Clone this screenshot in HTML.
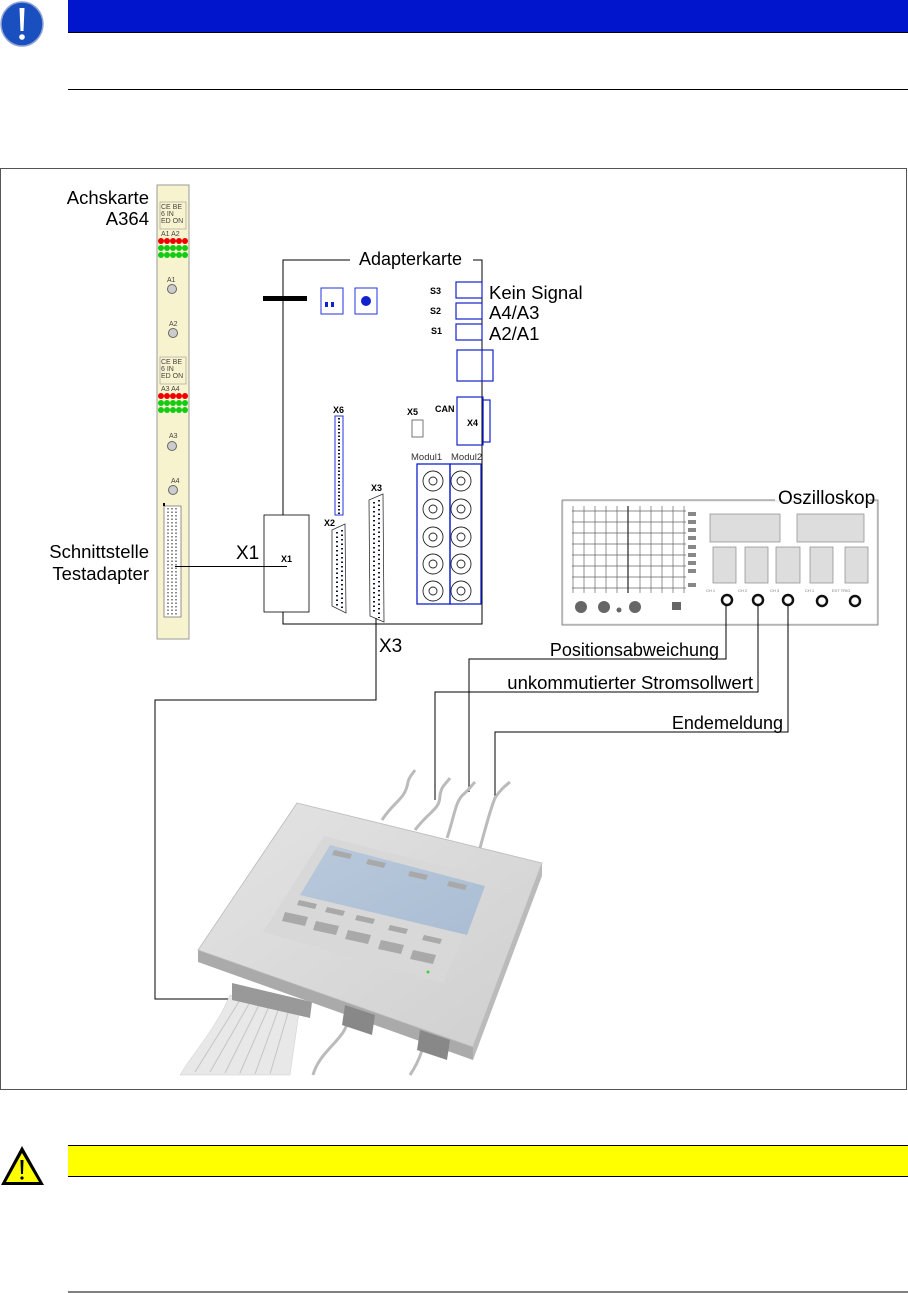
<!DOCTYPE html>
<html><head><meta charset="utf-8"><style>
html,body{margin:0;padding:0;background:#fff;}
svg{display:block;}
text{font-family:"Liberation Sans",Arial,sans-serif;}
</style></head><body>
<svg width="908" height="1293" viewBox="0 0 908 1293" xmlns="http://www.w3.org/2000/svg">
<defs>
<linearGradient id="top" x1="0" y1="0" x2="1" y2="1"><stop offset="0" stop-color="#e4e4e4"/><stop offset="1" stop-color="#cfcfcf"/></linearGradient>
<linearGradient id="scr" x1="0" y1="0" x2="1" y2="1"><stop offset="0" stop-color="#b9c9dc"/><stop offset="1" stop-color="#aabdd3"/></linearGradient>
</defs>
<rect x="68" y="0" width="840" height="32" fill="#0015cc"/>
<line x1="68" y1="32.5" x2="908" y2="32.5" stroke="#000" stroke-width="1"/>
<line x1="68" y1="89.5" x2="908" y2="89.5" stroke="#000" stroke-width="1"/>
<ellipse cx="22" cy="24" rx="21" ry="22" fill="#1a4fbf" stroke="#8fa4d4" stroke-width="1.5"/>
<path d="M19.5 8 L24.5 8 L23.5 31 L20.5 31 Z" fill="#fff"/>
<circle cx="22" cy="37" r="2.8" fill="#fff"/>

<rect x="0.5" y="168.5" width="906" height="921" fill="none" stroke="#555" stroke-width="1"/>

<text x="149" y="204" font-size="18.5" text-anchor="end">Achskarte</text>
<text x="149" y="225" font-size="18.5" text-anchor="end">A364</text>
<text x="149" y="558" font-size="18.5" text-anchor="end">Schnittstelle</text>
<text x="149" y="580" font-size="18.5" text-anchor="end">Testadapter</text>

<rect x="157" y="185" width="32" height="454" fill="#f7f3cf" stroke="#999" stroke-width="1"/>
<g font-size="7" fill="#444">
<rect x="160" y="202" width="26" height="27" fill="none" stroke="#999" stroke-width="0.6"/>
<text x="161" y="209">CE BE</text><text x="161" y="216">6  IN</text><text x="161" y="223">ED ON</text>
<text x="161" y="236">A1 A2</text>
<rect x="160" y="357" width="26" height="27" fill="none" stroke="#999" stroke-width="0.6"/>
<text x="161" y="364">CE BE</text><text x="161" y="371">6  IN</text><text x="161" y="378">ED ON</text>
<text x="161" y="391">A3 A4</text>
<text x="167" y="282">A1</text><text x="169" y="326">A2</text><text x="169" y="438">A3</text><text x="171" y="483">A4</text>
</g>
<g>
<circle cx="161" cy="241" r="3" fill="#e00"/><circle cx="167" cy="241" r="3" fill="#e00"/><circle cx="173" cy="241" r="3" fill="#e00"/><circle cx="179" cy="241" r="3" fill="#e00"/><circle cx="185" cy="241" r="3" fill="#e00"/>
<circle cx="161" cy="248" r="3" fill="#1c1"/><circle cx="167" cy="248" r="3" fill="#1c1"/><circle cx="173" cy="248" r="3" fill="#1c1"/><circle cx="179" cy="248" r="3" fill="#1c1"/><circle cx="185" cy="248" r="3" fill="#1c1"/>
<circle cx="161" cy="255" r="3" fill="#1c1"/><circle cx="167" cy="255" r="3" fill="#1c1"/><circle cx="173" cy="255" r="3" fill="#1c1"/><circle cx="179" cy="255" r="3" fill="#1c1"/><circle cx="185" cy="255" r="3" fill="#1c1"/>
<circle cx="161" cy="396" r="3" fill="#e00"/><circle cx="167" cy="396" r="3" fill="#e00"/><circle cx="173" cy="396" r="3" fill="#e00"/><circle cx="179" cy="396" r="3" fill="#e00"/><circle cx="185" cy="396" r="3" fill="#e00"/>
<circle cx="161" cy="403" r="3" fill="#1c1"/><circle cx="167" cy="403" r="3" fill="#1c1"/><circle cx="173" cy="403" r="3" fill="#1c1"/><circle cx="179" cy="403" r="3" fill="#1c1"/><circle cx="185" cy="403" r="3" fill="#1c1"/>
<circle cx="161" cy="410" r="3" fill="#1c1"/><circle cx="167" cy="410" r="3" fill="#1c1"/><circle cx="173" cy="410" r="3" fill="#1c1"/><circle cx="179" cy="410" r="3" fill="#1c1"/><circle cx="185" cy="410" r="3" fill="#1c1"/>
</g>
<g fill="#ccc" stroke="#666" stroke-width="1">
<circle cx="172" cy="289" r="4.5"/><circle cx="173" cy="333" r="4.5"/><circle cx="172" cy="446" r="4.5"/><circle cx="173" cy="490" r="4.5"/>
</g>
<rect x="164" y="506" width="17" height="111" fill="#fff" stroke="#777" stroke-width="0.8"/>
<path d="M168 508 V615 M172 508 V615 M176 508 V615" stroke="#666" stroke-width="1.5" stroke-dasharray="1.5 2"/>
<rect x="163" y="503" width="2" height="3" fill="#000"/>

<path d="M350 260 H283 V515 M283 612 V624 H482 V260 H473" fill="none" stroke="#000" stroke-width="1"/>
<text x="359" y="265" font-size="18">Adapterkarte</text>
<rect x="263" y="296" width="44" height="5" fill="#000"/>
<rect x="321" y="288" width="22" height="26" fill="none" stroke="#2233dd" stroke-width="1"/>
<rect x="325" y="302" width="3" height="5" fill="#1122cc"/><rect x="331" y="302" width="3" height="5" fill="#1122cc"/>
<rect x="355" y="288" width="22" height="26" fill="none" stroke="#2233dd" stroke-width="1"/>
<circle cx="366" cy="301" r="5" fill="#1122cc"/>
<g font-size="9" font-weight="bold"><text x="430" y="294">S3</text><text x="430" y="314">S2</text><text x="431" y="334">S1</text></g>
<g fill="none" stroke="#1122cc" stroke-width="1.2">
<rect x="456" y="282" width="26" height="16"/><rect x="456" y="303" width="26" height="16"/><rect x="456" y="324" width="26" height="16"/>
<rect x="457" y="350" width="36" height="31"/><line x1="482" y1="350" x2="482" y2="381"/>
<rect x="457" y="397" width="26" height="48"/><rect x="483" y="400" width="7" height="42"/>
<rect x="412" y="420" width="11" height="17" stroke="#555" stroke-width="0.8"/>
</g>
<text x="489" y="299" font-size="18.5">Kein Signal</text>
<text x="489" y="319" font-size="18.5">A4/A3</text>
<text x="489" y="340" font-size="18.5">A2/A1</text>
<text x="435" y="412" font-size="9" font-weight="bold">CAN</text>
<text x="467" y="426" font-size="9" font-weight="bold">X4</text>
<text x="407" y="415" font-size="9" font-weight="bold">X5</text>
<text x="333" y="413" font-size="9" font-weight="bold">X6</text>
<text x="324" y="526" font-size="9" font-weight="bold">X2</text>
<text x="371" y="491" font-size="9" font-weight="bold">X3</text>
<text x="411" y="460" font-size="9.5" fill="#333">Modul1</text>
<text x="451" y="460" font-size="9.5" fill="#333">Modul2</text>
<rect x="335" y="416" width="8" height="99" fill="#fff" stroke="#2233dd" stroke-width="1"/>
<line x1="339" y1="418" x2="339" y2="514" stroke="#112" stroke-width="2" stroke-dasharray="1.5 2"/>
<path d="M332 530 L345 524 L346 613 L332 606 Z" fill="#fff" stroke="#333" stroke-width="0.8"/>
<path d="M337 532 V606 M342 530 V610" stroke="#113" stroke-width="2" stroke-dasharray="1.5 3"/>
<path d="M369 500 L383 494 L384 622 L370 616 Z" fill="#fff" stroke="#333" stroke-width="0.8"/>
<path d="M374 502 V614 M379 500 V618" stroke="#113" stroke-width="2" stroke-dasharray="1.5 3"/>
<g fill="none" stroke="#1122cc" stroke-width="1.3"><rect x="417" y="464" width="33" height="140"/><rect x="450" y="464" width="31" height="140"/></g>
<g fill="#fff" stroke="#222" stroke-width="0.9">
<circle cx="433" cy="481" r="10"/><circle cx="433" cy="509" r="10"/><circle cx="433" cy="537" r="10"/><circle cx="433" cy="564" r="10"/><circle cx="433" cy="591" r="10"/>
<circle cx="461" cy="481" r="10"/><circle cx="461" cy="509" r="10"/><circle cx="461" cy="537" r="10"/><circle cx="461" cy="564" r="10"/><circle cx="461" cy="591" r="10"/>
<circle cx="433" cy="481" r="4"/><circle cx="433" cy="509" r="4"/><circle cx="433" cy="537" r="4"/><circle cx="433" cy="564" r="4"/><circle cx="433" cy="591" r="4"/>
<circle cx="461" cy="481" r="4"/><circle cx="461" cy="509" r="4"/><circle cx="461" cy="537" r="4"/><circle cx="461" cy="564" r="4"/><circle cx="461" cy="591" r="4"/>
</g>
<rect x="264" y="515" width="45" height="97" fill="#fff" stroke="#000" stroke-width="0.8"/>
<text x="281" y="562" font-size="9" font-weight="bold">X1</text>
<text x="236" y="559" font-size="19">X1</text>
<line x1="175" y1="566.5" x2="287" y2="566.5" stroke="#000" stroke-width="1"/>
<text x="379" y="652" font-size="19">X3</text>
<path d="M376 618 V700 H155 V999 H262" fill="none" stroke="#000" stroke-width="1"/>

<!-- Oscilloscope -->
<path d="M562 500 H775 M870 500 H878 V625 H562 V500" fill="none" stroke="#888" stroke-width="1"/>
<rect x="563" y="501" width="314" height="123" fill="none" stroke="#ccc" stroke-width="0.6"/>
<text x="778" y="504" font-size="19">Oszilloskop</text>
<g stroke="#666" stroke-width="0.7">
<path d="M572 511 H686 M572 522 H686 M572 533 H686 M572 544 H686 M572 555 H686 M572 566 H686 M572 577 H686 M572 588 H686"/>
<path d="M573 506 V593 M584 506 V593 M595 506 V593 M606 506 V593 M617 506 V593 M628 506 V593 M640 506 V593 M651 506 V593 M662 506 V593 M673 506 V593 M684 506 V593"/>
</g>
<line x1="628" y1="506" x2="628" y2="593" stroke="#333" stroke-width="1.3"/>
<g fill="#888"><rect x="688" y="512" width="8" height="4"/><rect x="688" y="520" width="8" height="4"/><rect x="688" y="528" width="8" height="4"/><rect x="688" y="536" width="8" height="4"/><rect x="688" y="545" width="8" height="4"/><rect x="688" y="553" width="8" height="4"/><rect x="688" y="561" width="8" height="4"/><rect x="688" y="569" width="8" height="4"/><rect x="688" y="583" width="8" height="4"/></g>
<g fill="#ddd" stroke="#888" stroke-width="0.7">
<rect x="710" y="514" width="70" height="28"/><rect x="797" y="514" width="67" height="28"/>
<rect x="713" y="547" width="23" height="36"/><rect x="745" y="547" width="23" height="36"/><rect x="776" y="547" width="24" height="36"/><rect x="810" y="547" width="23" height="36"/><rect x="845" y="547" width="23" height="36"/>
</g>
<g fill="#666"><circle cx="581" cy="607" r="6"/><circle cx="604" cy="607" r="6"/><circle cx="619" cy="610" r="2.5"/><circle cx="635" cy="607" r="6"/><rect x="672" y="602" width="9" height="8"/></g>
<g font-size="4" fill="#777"><text x="706" y="592">CH 1</text><text x="738" y="592">CH 2</text><text x="770" y="592">CH 3</text><text x="805" y="592">CH 1</text><text x="832" y="592">EXT TRIG</text></g>
<g fill="#fff" stroke="#111" stroke-width="2.5"><circle cx="727" cy="600" r="5"/><circle cx="758" cy="600" r="5"/><circle cx="788" cy="600" r="5"/><circle cx="822" cy="601" r="5"/><circle cx="855" cy="601" r="5"/></g>
<g fill="none" stroke="#000" stroke-width="1">
<path d="M726 605 V659 H469 V792"/>
<path d="M758 605 V692 H435 V800"/>
<path d="M788 605 V732 H495 V798"/>
</g>
<text x="719" y="656" font-size="18" text-anchor="end">Positionsabweichung</text>
<text x="753" y="689" font-size="18.5" text-anchor="end">unkommutierter Stromsollwert</text>
<text x="783" y="729" font-size="18" text-anchor="end">Endemeldung</text>

<!-- Device -->
<g fill="none" stroke="#bbb" stroke-width="3">
<path d="M382 820 C395 800 405 800 408 782 C410 775 412 775 415 770"/>
<path d="M415 830 C430 810 440 810 440 795 C442 785 445 785 450 778"/>
<path d="M447 838 C455 815 455 800 465 793 C470 788 472 785 475 782"/>
<path d="M480 848 C485 830 490 810 495 798 C500 790 505 786 510 782"/>
<path d="M313 1075 C320 1050 345 1040 348 1020"/>
<path d="M410 1075 C420 1060 425 1045 425 1030"/>
</g>
<path d="M230 995 L300 1005 L290 1075 L180 1075 C195 1050 215 1030 230 995 Z" fill="#e8e8e8" stroke="#ccc" stroke-width="0.5"/>
<path d="M240 1000 L195 1072 M250 1002 L210 1072 M260 1003 L225 1073 M270 1004 L240 1073 M280 1005 L255 1074 M290 1006 L270 1074" stroke="#c4c4c4" stroke-width="1"/>
<path d="M232 983 L312 1002 L310 1018 L232 1000 Z" fill="#999"/>
<path d="M198 950 L473 1047 L473 1060 L198 962 Z" fill="#aaa"/>
<path d="M473 1047 L542 863 L542 876 L473 1060 Z" fill="#bbb"/>
<path d="M345 1005 L375 1015 L372 1035 L342 1025 Z" fill="#888"/>
<path d="M420 1030 L450 1040 L447 1060 L417 1050 Z" fill="#888"/>
<path d="M297 803 L542 863 L473 1047 L198 950 Z" fill="url(#top)" stroke="#bbb" stroke-width="0.8"/>
<path d="M324 836 L488 878 L443 983 L263 932 Z" fill="#d8d8d8"/>
<path d="M330 845 L485 886 L467 935 L300 895 Z" fill="url(#scr)"/>
<g fill="#a9a9a9">
<path d="M334 850 L352 854 L350 859 L332 855 Z"/><path d="M368 859 L386 863 L384 868 L366 864 Z"/><path d="M410 871 L428 875 L426 880 L408 876 Z"/><path d="M449 881 L467 885 L465 890 L447 886 Z"/>
<path d="M299 900 L317 904 L315 909 L297 905 Z"/><path d="M327 907 L345 911 L343 916 L325 912 Z"/><path d="M357 915 L375 919 L373 924 L355 920 Z"/><path d="M390 925 L408 929 L406 934 L388 930 Z"/><path d="M424 935 L442 939 L440 944 L422 940 Z"/>
<path d="M285 912 L308 917 L305 926 L282 921 Z"/><path d="M316 921 L339 926 L336 935 L313 930 Z"/><path d="M348 930 L371 935 L368 944 L345 939 Z"/><path d="M381 940 L404 945 L401 954 L378 949 Z"/><path d="M413 950 L436 955 L433 964 L410 959 Z"/>
</g>
<circle cx="428" cy="972" r="1.5" fill="#4c4"/>

<rect x="68" y="1145" width="840" height="31" fill="#ffff00"/>
<line x1="68" y1="1145.5" x2="908" y2="1145.5" stroke="#000" stroke-width="1"/>
<line x1="68" y1="1176.5" x2="908" y2="1176.5" stroke="#000" stroke-width="1"/>
<line x1="68" y1="1292" x2="908" y2="1292" stroke="#000" stroke-width="1"/>
<path d="M22 1146 L44 1185 L1 1185 Z" fill="#000"/>
<path d="M22 1153 L39 1182 L6 1182 Z" fill="#ffff00"/>
<path d="M20.5 1160 L23.5 1160 L23 1174 L21 1174 Z" fill="#000"/>
<circle cx="22" cy="1178" r="1.6" fill="#000"/>
</svg>
</body></html>
